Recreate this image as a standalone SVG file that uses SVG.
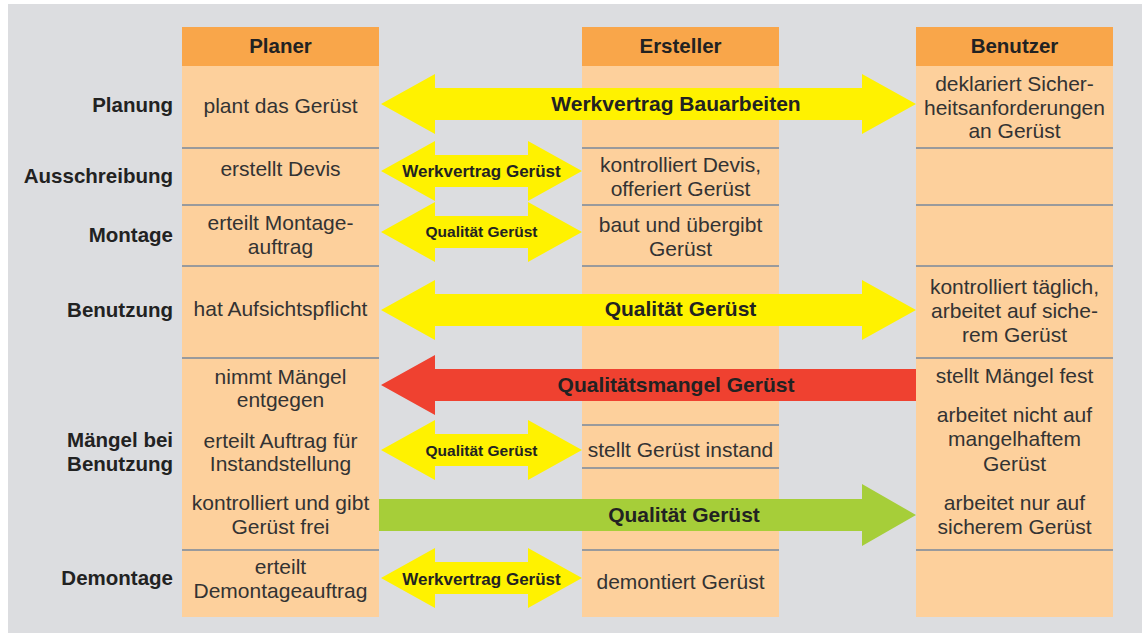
<svg xmlns="http://www.w3.org/2000/svg" width="1142" height="633" viewBox="0 0 1142 633">
<style>
.hd{fill:#f9a64a}
.bd{fill:#fdd09c}
.sep{stroke:#999a9c;stroke-width:2.2}
.h{font-family:"Liberation Sans",Arial,sans-serif;font-weight:bold;font-size:20.5px;fill:#222;text-anchor:middle}
.lb{font-family:"Liberation Sans",Arial,sans-serif;font-weight:bold;font-size:20.5px;fill:#222;text-anchor:end}
.t{font-family:"Liberation Sans",Arial,sans-serif;font-size:21px;fill:#333;text-anchor:middle}
.al{font-family:"Liberation Sans",Arial,sans-serif;font-weight:bold;font-size:21px;fill:#222;text-anchor:middle}
.am{font-family:"Liberation Sans",Arial,sans-serif;font-weight:bold;font-size:17px;fill:#222;text-anchor:middle}
.as{font-family:"Liberation Sans",Arial,sans-serif;font-weight:bold;font-size:15.5px;fill:#222;text-anchor:middle}
.y{fill:#fff200}
.r{fill:#ef4130}
.g{fill:#a6ce39}
</style>
<rect x="8" y="4" width="1134" height="629" fill="#dcdde0"/>

<g id="col-planer">
<rect class="hd" x="182" y="27" width="197" height="39"/>
<rect class="bd" x="182" y="66" width="197" height="551"/>
<line class="sep" x1="182" y1="148" x2="379" y2="148"/>
<line class="sep" x1="182" y1="205" x2="379" y2="205"/>
<line class="sep" x1="182" y1="266" x2="379" y2="266"/>
<line class="sep" x1="182" y1="358" x2="379" y2="358"/>
<line class="sep" x1="182" y1="550" x2="379" y2="550"/>
<text class="h" x="280.5" y="53">Planer</text>
<text class="t" x="280.5" y="113">plant das Gerüst</text>
<text class="t" x="280.5" y="176">erstellt Devis</text>
<text class="t" x="280.5" y="229.5">erteilt Montage-</text>
<text class="t" x="280.5" y="253.5">auftrag</text>
<text class="t" x="280.5" y="316">hat Aufsichtspflicht</text>
<text class="t" x="280.5" y="383.5">nimmt Mängel</text>
<text class="t" x="280.5" y="407">entgegen</text>
<text class="t" x="280.5" y="447.5">erteilt Auftrag für</text>
<text class="t" x="280.5" y="471">Instandstellung</text>
<text class="t" x="280.5" y="510">kontrolliert und gibt</text>
<text class="t" x="280.5" y="534">Gerüst frei</text>
<text class="t" x="280.5" y="573.5">erteilt</text>
<text class="t" x="280.5" y="597.5">Demontageauftrag</text>
</g>

<g id="col-ersteller">
<rect class="hd" x="582" y="27" width="197" height="39"/>
<rect class="bd" x="582" y="66" width="197" height="551"/>
<line class="sep" x1="582" y1="148" x2="779" y2="148"/>
<line class="sep" x1="582" y1="205" x2="779" y2="205"/>
<line class="sep" x1="582" y1="266" x2="779" y2="266"/>
<line class="sep" x1="582" y1="425" x2="779" y2="425"/>
<line class="sep" x1="582" y1="468" x2="779" y2="468"/>
<line class="sep" x1="582" y1="550" x2="779" y2="550"/>
<text class="h" x="680.5" y="53">Ersteller</text>
<text class="t" x="680.5" y="172">kontrolliert Devis,</text>
<text class="t" x="680.5" y="196">offeriert Gerüst</text>
<text class="t" x="680.5" y="232">baut und übergibt</text>
<text class="t" x="680.5" y="256">Gerüst</text>
<text class="t" x="680.5" y="457">stellt Gerüst instand</text>
<text class="t" x="680.5" y="589">demontiert Gerüst</text>
</g>

<g id="col-benutzer">
<rect class="hd" x="916" y="27" width="197" height="39"/>
<rect class="bd" x="916" y="66" width="197" height="551"/>
<line class="sep" x1="916" y1="148" x2="1113" y2="148"/>
<line class="sep" x1="916" y1="205" x2="1113" y2="205"/>
<line class="sep" x1="916" y1="266" x2="1113" y2="266"/>
<line class="sep" x1="916" y1="358" x2="1113" y2="358"/>
<line class="sep" x1="916" y1="550" x2="1113" y2="550"/>
<text class="h" x="1014.5" y="53">Benutzer</text>
<text class="t" x="1014.5" y="91">deklariert Sicher-</text>
<text class="t" x="1014.5" y="114.5">heitsanforderungen</text>
<text class="t" x="1014.5" y="138">an Gerüst</text>
<text class="t" x="1014.5" y="293.5">kontrolliert täglich,</text>
<text class="t" x="1014.5" y="317.5">arbeitet auf siche-</text>
<text class="t" x="1014.5" y="341.5">rem Gerüst</text>
<text class="t" x="1014.5" y="383">stellt Mängel fest</text>
<text class="t" x="1014.5" y="422">arbeitet nicht auf</text>
<text class="t" x="1014.5" y="446">mangelhaftem</text>
<text class="t" x="1014.5" y="470.5">Gerüst</text>
<text class="t" x="1014.5" y="510">arbeitet nur auf</text>
<text class="t" x="1014.5" y="533.5">sicherem Gerüst</text>
</g>

<g id="row-labels">
<text class="lb" x="173" y="112">Planung</text>
<text class="lb" x="173" y="183">Ausschreibung</text>
<text class="lb" x="173" y="242">Montage</text>
<text class="lb" x="173" y="317">Benutzung</text>
<text class="lb" x="173" y="447">Mängel bei</text>
<text class="lb" x="173" y="471">Benutzung</text>
<text class="lb" x="173" y="585">Demontage</text>
</g>

<g id="connectors">
<g id="a-werkvertrag-bau">
<path class="y" d="M381 104 L435 74 L435 88 L862 88 L862 74 L916 104 L862 134 L862 120 L435 120 L435 134 Z"/>
<text class="al" x="676" y="110.5">Werkvertrag Bauarbeiten</text>
</g>
<g id="a-werkvertrag-geruest-1">
<path class="y" d="M381 171 L435 141 L435 155 L528 155 L528 141 L582 171 L528 201 L528 187 L435 187 L435 201 Z"/>
<text class="am" x="481.5" y="177">Werkvertrag Gerüst</text>
</g>
<g id="a-qualitaet-montage">
<path class="y" d="M381 232 L435 202 L435 216 L528 216 L528 202 L582 232 L528 262 L528 248 L435 248 L435 262 Z"/>
<text class="as" x="481.5" y="237">Qualität Gerüst</text>
</g>
<g id="a-qualitaet-benutzung">
<path class="y" d="M381 310 L435 280 L435 294 L862 294 L862 280 L916 310 L862 340 L862 326 L435 326 L435 340 Z"/>
<text class="al" x="680.5" y="316">Qualität Gerüst</text>
</g>
<g id="a-qualitaetsmangel">
<path class="r" d="M381 385 L435 355 L435 369 L916 369 L916 401 L435 401 L435 415 Z"/>
<text class="al" x="676" y="392">Qualitätsmangel Gerüst</text>
</g>
<g id="a-qualitaet-instand">
<path class="y" d="M381 450 L435 420 L435 434 L528 434 L528 420 L582 450 L528 480 L528 466 L435 466 L435 480 Z"/>
<text class="as" x="481.5" y="456">Qualität Gerüst</text>
</g>
<g id="a-qualitaet-frei">
<path class="g" d="M379 499 L862 499 L862 484 L916 515 L862 546 L862 531 L379 531 Z"/>
<text class="al" x="684" y="522">Qualität Gerüst</text>
</g>
<g id="a-werkvertrag-geruest-2">
<path class="y" d="M381 578 L435 548 L435 562 L528 562 L528 548 L582 578 L528 608 L528 594 L435 594 L435 608 Z"/>
<text class="am" x="481.5" y="584.5">Werkvertrag Gerüst</text>
</g>
</g>
</svg>
